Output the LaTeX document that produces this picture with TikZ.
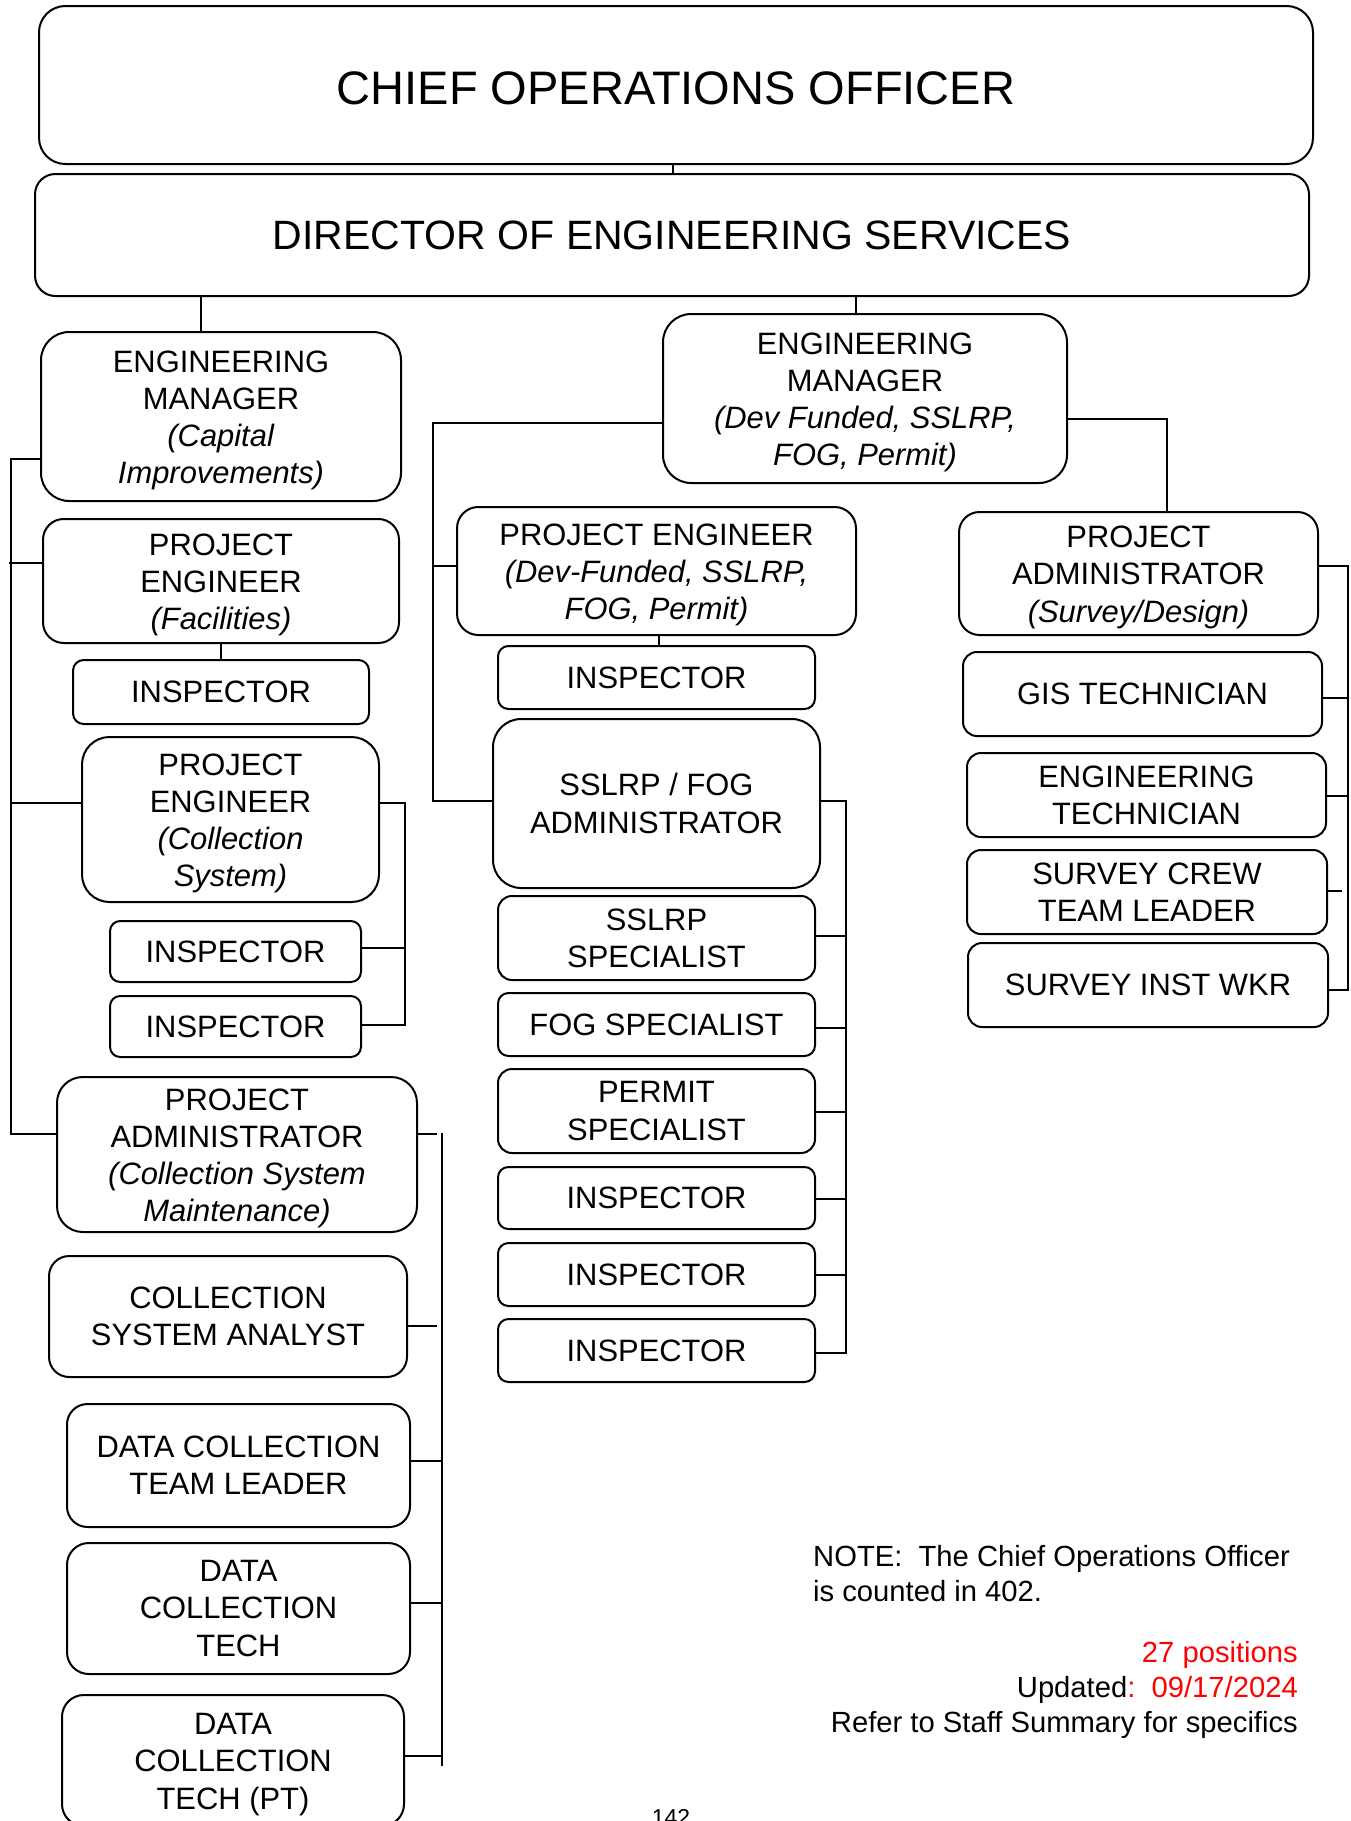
\documentclass[tikz,border=0pt]{standalone}
\usepackage{fontspec}
\setmainfont{Liberation Sans}
\usetikzlibrary{calc}
\definecolor{notered}{RGB}{255,0,0}
\newcommand\boxfont{\fontsize{30.9}{37.2}\selectfont}
\newcommand\notefont{\fontsize{29.2}{35}\selectfont}
% strut that balances the depth of a last line with parentheses
\newcommand\tp{\rule{0pt}{29pt}}
\tikzset{
  box/.style={draw, line width=2pt, align=center, inner sep=0pt, font=\boxfont},
  conn/.style={line width=2.4pt},
  notetext/.style={inner sep=0pt, font=\notefont},
}
\newcommand\orgbox[7][]{%
  \pgfmathsetmacro\bw{#5-#3}%
  \pgfmathsetmacro\bh{#6-#4}%
  \pgfmathsetmacro\bcx{(#3+#5)/2}%
  \pgfmathsetmacro\bcy{(#4+#6)/2}%
  \pgfmathsetmacro\brr{min(\bw,\bh)/6}%
  \node[box, minimum width=\bw pt, minimum height=\bh pt, rounded corners=\brr pt, #1] (#2) at (\bcx,\bcy) {#7};%
}
\begin{document}
\begin{tikzpicture}[x=1pt, y=-1pt]
\useasboundingbox (0,0) rectangle (1351,1821);

% top
\orgbox{COO}{39}{6}{1313}{164}{\fontsize{47}{56}\selectfont\rule{0pt}{39pt}CHIEF OPERATIONS OFFICER}
\orgbox{DES}{35}{174}{1309}{296}{\fontsize{41}{49}\selectfont DIRECTOR OF ENGINEERING SERVICES}

% left column
\orgbox{EM1}{41}{332}{401}{501}{\tp ENGINEERING\\MANAGER\\\textit{(Capital}\\\textit{Improvements)}}
\orgbox{PEF}{43}{519}{399}{643}{\tp PROJECT\\ENGINEER\\\textit{(Facilities)}}
\orgbox{I1}{73}{660}{369}{724}{INSPECTOR}
\orgbox{PECS}{82}{737}{379}{902}{\tp PROJECT\\ENGINEER\\\textit{(Collection}\\\textit{System)}}
\orgbox{I3}{110}{921}{361}{982}{INSPECTOR}
\orgbox{I4}{110}{996}{361}{1057}{INSPECTOR}
\orgbox{PAC}{57}{1077}{417}{1232}{\tp PROJECT\\ADMINISTRATOR\\\textit{(Collection System}\\\textit{Maintenance)}}
\orgbox{CSA}{49}{1256}{407}{1377}{COLLECTION\\SYSTEM ANALYST}
\orgbox{DCTL}{67}{1404}{410}{1527}{DATA COLLECTION\\TEAM LEADER}
\orgbox{DCT}{67}{1543}{410}{1674}{DATA\\COLLECTION\\TECH}
\orgbox{DCTPT}{62}{1695}{404}{1826}{\tp DATA\\COLLECTION\\TECH (PT)}

% middle column
\orgbox{EM2}{663}{314}{1067}{483}{\tp ENGINEERING\\MANAGER\\\textit{(Dev Funded, SSLRP,}\\\textit{FOG, Permit)}}
\orgbox{PED}{457}{507}{856}{635}{\tp PROJECT ENGINEER\\\textit{(Dev-Funded, SSLRP,}\\\textit{FOG, Permit)}}
\orgbox{I2}{498}{646}{815}{709}{INSPECTOR}
\orgbox{SFA}{493}{719}{820}{888}{SSLRP / FOG\\ADMINISTRATOR}
\orgbox{SSP}{498}{896}{815}{980}{SSLRP\\SPECIALIST}
\orgbox{FSP}{498}{993}{815}{1056}{FOG SPECIALIST}
\orgbox{PSP}{498}{1069}{815}{1153}{PERMIT\\SPECIALIST}
\orgbox{I5}{498}{1167}{815}{1229}{INSPECTOR}
\orgbox{I6}{498}{1243}{815}{1306}{INSPECTOR}
\orgbox{I7}{498}{1319}{815}{1382}{INSPECTOR}

% right column
\orgbox{PAS}{959}{512}{1318}{635}{\tp PROJECT\\ADMINISTRATOR\\\textit{(Survey/Design)}}
\orgbox{GIS}{963}{652}{1322}{736}{GIS TECHNICIAN}
\orgbox{ET}{967}{753}{1326}{837}{ENGINEERING\\TECHNICIAN}
\orgbox{SCL}{967}{850}{1327}{934}{SURVEY CREW\\TEAM LEADER}
\orgbox{SIW}{968}{943}{1328}{1027}{SURVEY INST WKR}

% top connectors
\draw[conn] (COO.south -| 673,0) -- (DES.north -| 673,0);
\draw[conn] (DES.south -| 201,0) -- (EM1.north -| 201,0);
\draw[conn] (DES.south -| 856,0) -- (EM2.north -| 856,0);

% left bus
\draw[conn] (EM1.west |- 0,459) -- (11,459) -- (11,1134) -- (PAC.west |- 0,1134);
\draw[conn] (9,563) -- (PEF.west |- 0,563);
\draw[conn] (11,803) -- (PECS.west |- 0,803);
\draw[conn] (PEF.south) -- (I1.north);
\draw[conn] (PECS.east |- 0,803) -- (405,803) -- (405,1025) -- (I4.east |- 0,1025);
\draw[conn] (I3.east |- 0,948) -- (405,948);

% collection system maintenance bus
\draw[conn] (PAC.east |- 0,1134) -- (437,1134);
\draw[conn] (442,1133) -- (442,1766);
\draw[conn] (CSA.east |- 0,1326) -- (437,1326);
\draw[conn] (DCTL.east |- 0,1461) -- (442,1461);
\draw[conn] (DCT.east |- 0,1603) -- (442,1603);
\draw[conn] (DCTPT.east |- 0,1756) -- (442,1756);

% middle buses
\draw[conn] (EM2.west |- 0,423) -- (433,423) -- (433,801) -- (SFA.west |- 0,801);
\draw[conn] (433,566) -- (PED.west |- 0,566);
\draw[conn] (PED.south -| 659,0) -- (I2.north -| 659,0);
\draw[conn] (SFA.east |- 0,801) -- (846,801) -- (846,1353) -- (I7.east |- 0,1353);
\foreach \n/\yy in {SSP/936, FSP/1028, PSP/1112, I5/1199, I6/1275}
  \draw[conn] (\n.east |- 0,\yy) -- (846,\yy);

% right buses
\draw[conn] (EM2.east |- 0,419) -- (1167,419) -- (PAS.north -| 1167,0);
\draw[conn] (PAS.east |- 0,566) -- (1348,566) -- (1348,990) -- (SIW.east |- 0,990);
\draw[conn] (GIS.east |- 0,698) -- (1348,698);
\draw[conn] (ET.east |- 0,796) -- (1348,796);
\draw[conn] (SCL.east |- 0,891) -- (1342,891);

% notes
\node[notetext, anchor=base west] (note1) at (813,1566) {NOTE:\ \ The Chief Operations Officer};
\node[notetext, anchor=base west] (note2) at (813,1601) {is counted in 402.};
\node[notetext, anchor=base east, text=notered] (pos) at (1298,1662) {27 positions};
\node[notetext, anchor=base east] (upd) at (1298,1697) {Updated\textcolor{notered}{:\ \ 09/17/2024}};
\node[notetext, anchor=base east] (refer) at (1298,1732) {Refer to Staff Summary for specifics};
\node[inner sep=0pt, anchor=base, font=\fontsize{23}{27}\selectfont] (pg) at (671,1825) {142};
\end{tikzpicture}
\end{document}
